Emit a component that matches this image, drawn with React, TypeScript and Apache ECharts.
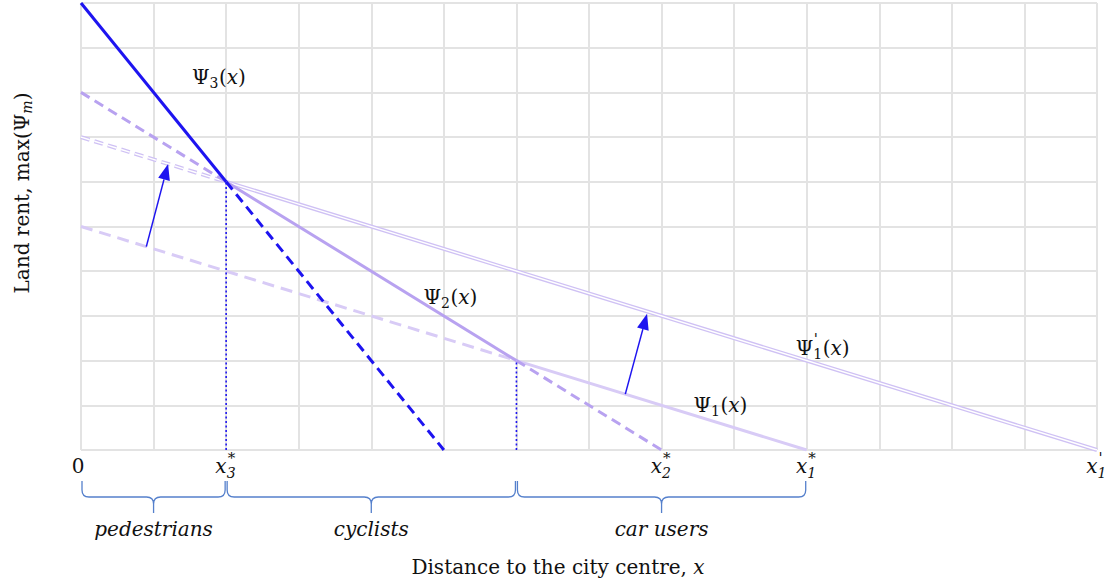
import React, { useEffect, useRef } from "react";
import * as echarts from "echarts";

// ---- data (axis units) ----
const psi3Solid = [[0, 10], [2, 6]];
const psi3Dashed = [[2, 6], [5, 0]];
const psi2DashedLeft = [[0, 8], [2, 6]];
const psi2Solid = [[2, 6], [6, 2]];
const psi2DashedRight = [[6, 2], [8, 0]];
const psi1Dashed = [[0, 5], [6, 2]];
const psi1Solid = [[6, 2], [10, 0]];
const psi1pDashed = [[0, 7], [2, 6]];
const psi1pSolid = [[2, 6], [14, 0]];
const dropLine3 = [[2, 0], [2, 6]];
const dropLine2 = [[6, 0], [6, 2]];
// arrows: [x1, y1, x2, y2]
const shiftArrows = [
  [0.9, 4.55, 1.2, 6.4],
  [7.5, 1.25, 7.8, 3.05],
];
// tick labels: [value, main, subscript, superscript]
const tickLabels: [number, string, string, string][] = [
  [0, "0", "", ""],
  [2, "x", "3", "*"],
  [8, "x", "2", "*"],
  [10, "x", "1", "*"],
  [14, "x", "1", "'"],
];
// commuter groups: [from, to, label]
const groups: [number, number, string][] = [
  [0, 2, "pedestrians"],
  [2, 6, "cyclists"],
  [6, 10, "car users"],
];
// curve labels: [x, y, subscript, prime]
const curveLabels: [number, number, string, string][] = [
  [1.53, 8.34, "3", ""],
  [4.72, 3.42, "2", ""],
  [8.44, 1.01, "1", ""],
  [9.85, 2.28, "1", "'"],
];

const FONT = '"DejaVu Serif", "Liberation Serif", serif';
const MAIN = 20;
const SUB = 14;
const INK = "#111111";
const BLUE = "#1e14f0";
const C2 = "#b8a2f0";
const C1 = "#d8cbf6";
const C1P = "#cfc1f4";
const BRACE = "#5580cc";

let mctx: CanvasRenderingContext2D | null = null;
function measure(t: string, size: number, it?: boolean) {
  if (!mctx) mctx = document.createElement("canvas").getContext("2d");
  mctx!.font = `${it ? "italic " : ""}${size}px ${FONT}`;
  return mctx!.measureText(t).width;
}

type Run = { t: string; size: number; it?: boolean; dy?: number; dx?: number; keep?: boolean };
function runs(list: Run[], x0: number, y0: number, align: "left" | "center" | "right") {
  const widths = list.map((r) => measure(r.t, r.size, r.it));
  let total = 0;
  list.forEach((r, i) => {
    if (!r.keep) total += widths[i] + (r.dx || 0);
  });
  let x = align === "left" ? x0 : align === "center" ? x0 - total / 2 : x0 - total;
  const children: any[] = [];
  list.forEach((r, i) => {
    children.push({
      type: "text",
      x: x + (r.dx || 0),
      y: y0 + (r.dy || 0),
      silent: true,
      style: {
        text: r.t,
        fontSize: r.size,
        fontFamily: FONT,
        fontStyle: r.it ? "italic" : "normal",
        fill: INK,
        align: "left",
        verticalAlign: "middle",
      },
    });
    if (!r.keep) x += widths[i] + (r.dx || 0);
  });
  return children;
}

function lineSeries(data: number[][], color: string, width: number, type: any, z = 2) {
  return {
    type: "line",
    data,
    symbol: "none",
    silent: true,
    z,
    lineStyle: { color, width, type, cap: "butt" },
  };
}

export default function App() {
  const ref = useRef<HTMLDivElement>(null);
  useEffect(() => {
    const chart = echarts.init(ref.current!, null, { renderer: "svg" });
    const option: any = {
      animation: false,
      grid: { left: 81, right: 13, top: 3, bottom: 135 },
      xAxis: {
        type: "value",
        min: 0,
        max: 14,
        interval: 1,
        axisLine: { show: false },
        axisTick: { show: false },
        axisLabel: { show: false },
        splitLine: { show: true, lineStyle: { color: "#e3e3e3", width: 2 } },
      },
      yAxis: {
        type: "value",
        min: 0,
        max: 10,
        interval: 1,
        axisLine: { show: false },
        axisTick: { show: false },
        axisLabel: { show: false },
        splitLine: { show: true, lineStyle: { color: "#e3e3e3", width: 2 } },
      },
      series: [
        lineSeries(psi1pDashed, C1P, 4, [9, 5], 2),
        lineSeries(psi1pDashed, "#ffffff", 1.4, [9, 5], 3),
        lineSeries(psi1pSolid, C1P, 4, "solid", 2),
        lineSeries(psi1pSolid, "#ffffff", 1.4, "solid", 3),
        lineSeries(psi1Dashed, C1, 3, [12, 7], 4),
        lineSeries(psi1Solid, C1, 3, "solid", 4),
        lineSeries(psi2DashedLeft, C2, 3, [10, 6], 5),
        lineSeries(psi2Solid, C2, 3, "solid", 5),
        lineSeries(psi2DashedRight, C2, 3, [10, 6], 5),
        lineSeries(psi3Solid, BLUE, 3, "solid", 6),
        lineSeries(psi3Dashed, BLUE, 3, [10, 6], 6),
        lineSeries(dropLine3, BLUE, 1.6, [2, 2.5], 7),
        lineSeries(dropLine2, BLUE, 1.6, [2, 2.5], 7),
        {
          type: "custom",
          silent: true,
          clip: false,
          z: 8,
          data: shiftArrows,
          encode: { x: [0, 2], y: [1, 3] },
          renderItem: (params: any, api: any) => {
            const p1 = api.coord([api.value(0), api.value(1)]);
            const p2 = api.coord([api.value(2), api.value(3)]);
            const dx = p2[0] - p1[0];
            const dy = p2[1] - p1[1];
            const len = Math.sqrt(dx * dx + dy * dy);
            const ux = dx / len;
            const uy = dy / len;
            const hl = 16;
            const hw = 6;
            const bx = p2[0] - ux * hl;
            const by = p2[1] - uy * hl;
            return {
              type: "group",
              children: [
                {
                  type: "line",
                  shape: { x1: p1[0], y1: p1[1], x2: bx, y2: by },
                  style: { stroke: BLUE, lineWidth: 1.5 },
                },
                {
                  type: "polygon",
                  shape: {
                    points: [
                      [p2[0], p2[1]],
                      [bx - uy * hw, by + ux * hw],
                      [bx + uy * hw, by - ux * hw],
                    ],
                  },
                  style: { fill: BLUE },
                },
              ],
            };
          },
        },
        {
          type: "custom",
          silent: true,
          clip: false,
          z: 9,
          data: curveLabels.map((d) => [d[0], d[1]]),
          encode: { x: 0, y: 1 },
          renderItem: (params: any, api: any) => {
            const d = curveLabels[params.dataIndex];
            const p = api.coord([d[0], d[1]]);
            const list: Run[] = [{ t: "Ψ", size: MAIN }];
            if (d[3]) list.push({ t: d[3], size: 15, dy: -9, keep: true, dx: 0.5 });
            list.push({ t: d[2], size: SUB, dy: 6 });
            list.push({ t: "(", size: MAIN, dx: 0.5 });
            list.push({ t: "x", size: MAIN, it: true });
            list.push({ t: ")", size: MAIN });
            return { type: "group", children: runs(list, p[0], p[1], "left") };
          },
        },
        {
          type: "custom",
          silent: true,
          clip: false,
          z: 9,
          data: tickLabels.map((d) => [d[0], 0]),
          encode: { x: 0, y: 1 },
          renderItem: (params: any, api: any) => {
            const d = tickLabels[params.dataIndex];
            const p = api.coord([d[0], 0]);
            const y = p[1] + 16;
            if (!d[2]) {
              return { type: "group", children: runs([{ t: d[1], size: MAIN }], p[0] - 3, y, "center") };
            }
            const wx = measure(d[1], MAIN, true);
            const children = [
              ...runs([{ t: d[1], size: MAIN, it: true }], p[0] - wx + 0.5, y, "left"),
              ...runs([{ t: d[3], size: 15 }], p[0] + 1.5, y - 8, "left"),
              ...runs([{ t: d[2], size: SUB, it: true }], p[0] + 0.5, y + 7, "left"),
            ];
            return { type: "group", children };
          },
        },
        {
          type: "custom",
          silent: true,
          clip: false,
          z: 9,
          data: groups.map((g) => [g[0], g[1]]),
          encode: { x: [0, 1] },
          renderItem: (params: any, api: any) => {
            const g = groups[params.dataIndex];
            const a = api.coord([g[0], 0]);
            const b = api.coord([g[1], 0]);
            const base = a[1];
            const s = a[0] + 1;
            const e = b[0] - 1;
            const m = (a[0] + b[0]) / 2;
            const yt = base + 31;
            const yh = base + 47;
            const yp = base + 63;
            const r = 7;
            const path =
              `M${s},${yt} L${s},${yh - r} Q${s},${yh} ${s + r},${yh} ` +
              `L${m - r},${yh} Q${m},${yh} ${m},${yh + r} L${m},${yp} ` +
              `M${m},${yh + r} Q${m},${yh} ${m + r},${yh} ` +
              `L${e - r},${yh} Q${e},${yh} ${e},${yh - r} L${e},${yt}`;
            return {
              type: "group",
              children: [
                {
                  type: "path",
                  shape: { pathData: path },
                  style: { stroke: BRACE, fill: "none", lineWidth: 1.3 },
                },
                ...runs([{ t: g[2], size: MAIN, it: true }], m, base + 79, "center"),
              ],
            };
          },
        },
      ],
    };
    chart.setOption(option);
    // axis titles
    chart.setOption({
      graphic: [
        {
          type: "group",
          x: 558,
          y: 567,
          silent: true,
          children: runs(
            [
              { t: "Distance to the city centre, ", size: MAIN },
              { t: "x", size: MAIN, it: true },
            ],
            0,
            0,
            "center"
          ),
        },
        {
          type: "group",
          x: 22,
          y: 193,
          rotation: Math.PI / 2,
          silent: true,
          children: runs(
            [
              { t: "Land rent, max(Ψ", size: MAIN },
              { t: "m", size: SUB, it: true, dy: 5 },
              { t: ")", size: MAIN },
            ],
            0,
            0,
            "center"
          ),
        },
      ],
    });
    return () => chart.dispose();
  }, []);
  return (
    <div
      ref={ref}
      style={{ position: "fixed", left: 0, top: 0, width: 1110, height: 585, background: "#fff" }}
    />
  );
}
